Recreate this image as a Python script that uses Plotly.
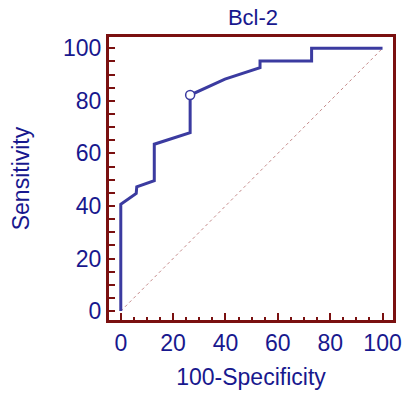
import plotly.graph_objects as go

fpr = [0, 0, 5.9, 6.1, 12.8, 12.8, 26.5, 26.5, 39.8, 53.2, 53.2, 72.9, 72.9, 100]
tpr = [0, 40.6, 44.8, 47.3, 49.6, 63.5, 67.9, 82.2, 88.3, 92.6, 95.2, 95.2, 100, 100]
cut_x = [26.5]
cut_y = [82.2]
diag = [0, 100]

NAVY = "#18188e"
FRAME = "#7a1010"
CURVE = "#3b3ba0"
FONT = "Liberation Sans, Arial, sans-serif"
FS = 23

fig = go.Figure()
fig.add_trace(go.Scatter(x=diag, y=diag, mode="lines",
                         line=dict(color="#c58a8a", width=1, dash="dot"),
                         hoverinfo="skip"))
fig.add_trace(go.Scatter(x=fpr, y=tpr, mode="lines",
                         line=dict(color=CURVE, width=3)))
fig.add_trace(go.Scatter(x=cut_x, y=cut_y, mode="markers",
                         marker=dict(symbol="circle", size=9, color="white",
                                     line=dict(color=CURVE, width=1.5))))

axis_common = dict(
    showgrid=False, zeroline=False, showline=True, mirror=True,
    linecolor=FRAME, linewidth=3, automargin=False,
    ticks="inside", tickcolor=FRAME, tickwidth=1.5,
    tickfont=dict(family=FONT, size=FS, color=NAVY),
)

fig.update_layout(
    width=406, height=393,
    margin=dict(l=109, r=13, t=37, b=73),
    paper_bgcolor="white", plot_bgcolor="white",
    showlegend=False,
    title=dict(text="Bcl-2", x=0.623, xanchor="center", y=1 - 17 / 393, yanchor="middle",
               font=dict(family=FONT, size=FS - 1, color=NAVY)),
    font=dict(family=FONT, color=NAVY),
    xaxis=dict(range=[-4.5, 104], tickmode="linear", tick0=0, dtick=20, ticklen=7,
               minor=dict(tickmode="linear", tick0=0, dtick=5, ticklen=3,
                          tickcolor=FRAME, tickwidth=1.5, ticks="inside"),
               title=dict(text="100-Specificity", standoff=15,
                          font=dict(family=FONT, size=FS, color=NAVY)),
               **axis_common),
    yaxis=dict(range=[-3.4, 104.3], tickmode="linear", tick0=0, dtick=20, ticklen=6,
               minor=dict(tickmode="linear", tick0=0, dtick=5, ticklen=6,
                          tickcolor=FRAME, tickwidth=1.5, ticks="inside"),
               title=dict(text="Sensitivity", standoff=27,
                          font=dict(family=FONT, size=FS, color=NAVY)),
               **axis_common),
)

fig.write_html("out.html")
